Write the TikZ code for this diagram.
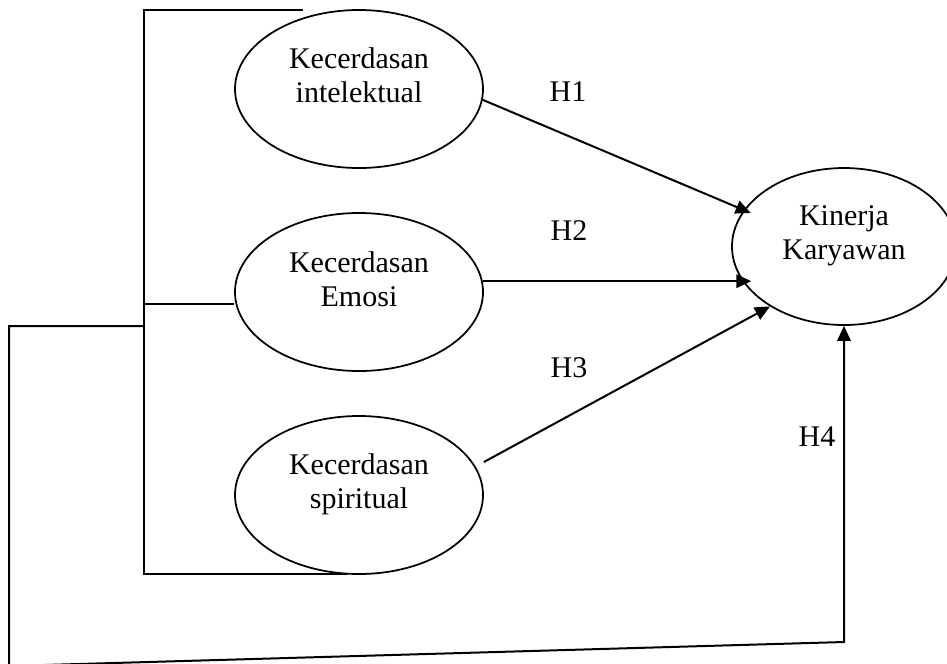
\documentclass[tikz,border=0pt]{standalone}
\usepackage{fontspec}
\setmainfont{Liberation Serif}
\usetikzlibrary{shapes.geometric,arrows.meta}
\begin{document}
\begin{tikzpicture}[x=0.4pt,y=-0.4pt,line width=0.8pt,
  ell/.style={draw,ellipse,inner sep=0pt,line width=0.7pt,minimum width=99.2pt,minimum height=63.2pt},
  kell/.style={draw,ellipse,inner sep=0pt,line width=0.7pt,minimum width=89.6pt,minimum height=62.8pt},
  lbl/.style={font=\fontsize{12}{13.6}\selectfont,align=center,inner sep=0pt},
  arr/.style={-{Triangle[length=6pt,width=5.4pt]}}]
\useasboundingbox (0,0) rectangle (947,663);
\fill[white] (0,0) rectangle (947,663);
% ellipses
\node[ell] (e1) at (359,89) {};
\node[ell] (e2) at (359,292) {};
\node[ell] (e3) at (359,495) {};
\node[kell] (k) at (844,246.5) {};
% texts
\node[lbl] (t1) at (359,75) {Kecerdasan\\intelektual};
\node[lbl] (t2) at (359,279) {Kecerdasan\\Emosi};
\node[lbl] (t3) at (359,484) {Kecerdasan\\spiritual};
\node[lbl] (tk) at (844,236) {Kinerja\\Karyawan};
% hypothesis labels
\node[lbl] (h1) at (568,92) {H1};
\node[lbl] (h2) at (569,231) {H2};
\node[lbl] (h3) at (569,368) {H3};
\node[lbl] (h4) at (817,437) {H4};
% bracket
\coordinate (a1) at (303,10);
\coordinate (a2) at (144,10);
\coordinate (a3) at (144,574);
\coordinate (a4) at (347,574);
\draw (a1) -- (a2) -- (a3) -- (a4);
\coordinate (b2) at (144,304);
\draw (b2) -- (b2 -| e2.west);
% H1-H3
\draw[arr,shorten >=-3pt] (e1.-5) -- (k.160);
\draw[arr,shorten >=-3pt] (e2.5) -- (e2.5 -| k.200);
\coordinate (h3s) at ([yshift=13.2pt]e3.east);
\draw[arr] (h3s) -- (k.219);
% H4 loop
\coordinate (c0) at (144,326);
\coordinate (c1) at (9,326);
\coordinate (c2) at (9,666);
\coordinate (c3) at (844,642);
\draw[arr] (c0) -- (c1) -- (c2) -- (c3) -- (k.south);
\end{tikzpicture}
\end{document}
